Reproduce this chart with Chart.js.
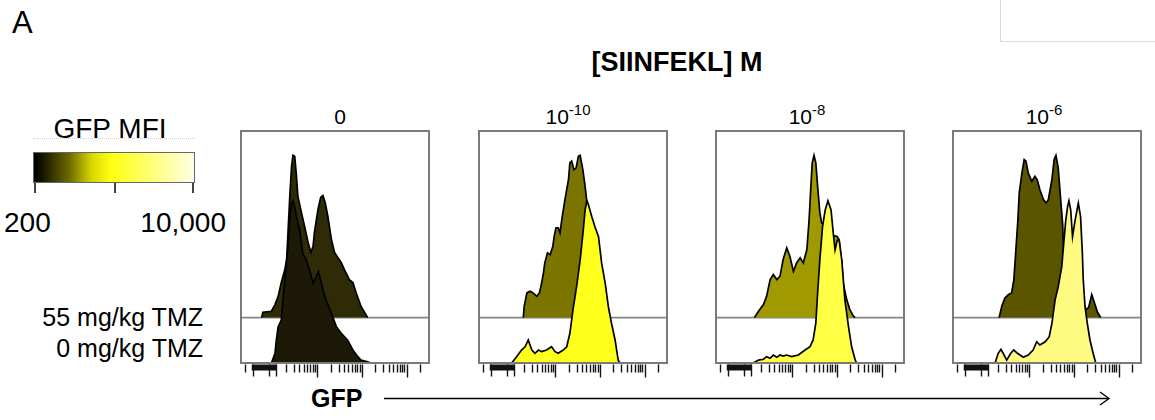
<!DOCTYPE html>
<html><head><meta charset="utf-8">
<script src="https://cdn.jsdelivr.net/npm/chart.js@4.4.1/dist/chart.umd.min.js"></script>
<style>
body{margin:0;background:#fff;width:1155px;height:420px;overflow:hidden;position:relative;font-family:"Liberation Sans",Arial,sans-serif;color:#000}
.t{position:absolute;white-space:nowrap;line-height:1}
.t sup{font-size:15px;vertical-align:0;position:relative;top:-9px}
canvas{position:absolute}
</style></head><body>
<div id="root"></div>
<script>
// ---------- data ----------
const figureLabel = 'A';
const peptideTitle = '[SIINFEKL] M';
const concentrations = ['0', '10<sup>-10</sup>', '10<sup>-8</sup>', '10<sup>-6</sup>'];
const conditions = ['55 mg/kg TMZ', '0 mg/kg TMZ'];
const axisLabel = 'GFP';
const colorbarTitle = 'GFP MFI';
const colorbarLabels = ['200', '10,000'];

// x: log10 GFP (display units), y: % of mode
const tmz55_c0 = [[1.76,0],[1.79,3.3],[1.98,3.9],[2.06,8],[2.13,13.1],[2.20,21.6],[2.28,29.6],[2.32,35.8],[2.35,52.4],[2.39,74.8],[2.43,93.3],[2.46,100],[2.50,99.4],[2.54,87.1],[2.57,74.8],[2.65,64.7],[2.72,56.3],[2.80,46.2],[2.86,40.1],[2.91,44],[2.94,52.4],[3.02,66.6],[3.08,74],[3.13,75.2],[3.18,70.9],[3.24,62.5],[3.32,48.1],[3.39,40.1],[3.54,33.9],[3.61,29.6],[3.72,23.4],[3.80,21.6],[3.87,15.4],[3.98,7],[4.09,1.8],[4.13,0]];
const tmz0_c0 = [[1.98,0],[2.06,6],[2.09,14.2],[2.13,22.4],[2.20,26.5],[2.28,51.2],[2.35,71.7],[2.39,88.2],[2.43,98.5],[2.46,100],[2.50,96.4],[2.54,90.2],[2.61,82],[2.68,67.6],[2.76,63.5],[2.83,57.3],[2.91,49.1],[2.98,53.2],[3.03,56.3],[3.08,51.2],[3.13,45],[3.20,38.8],[3.32,30.6],[3.43,22.4],[3.54,18.3],[3.68,14.2],[3.80,8],[3.91,3.9],[3.98,1.8],[4.13,0.8],[4.20,0]];
const tmz55_c10 = [[2.29,0],[2.31,7],[2.37,15.2],[2.44,16.2],[2.51,15.2],[2.59,13.1],[2.65,15.2],[2.70,21.4],[2.74,27.6],[2.77,33.7],[2.83,39.9],[2.89,38.8],[2.95,44],[2.98,50.1],[3.02,55.3],[3.07,55.3],[3.11,52.2],[3.15,60.4],[3.22,72.7],[3.30,85.1],[3.33,95.4],[3.37,96.4],[3.42,91.2],[3.47,92.3],[3.52,99.4],[3.56,100],[3.62,91.2],[3.67,81],[3.74,63.5],[3.82,48.1],[3.91,29.6],[4.00,11.1],[4.07,0]];
const tmz0_c10 = [[2.03,0],[2.14,3.9],[2.25,8],[2.33,10],[2.40,14.2],[2.48,8],[2.55,6],[2.63,8],[2.70,7],[2.81,8],[2.92,10],[3.00,7],[3.07,6],[3.18,8],[3.26,10],[3.33,18.3],[3.37,26.5],[3.41,34.7],[3.48,47],[3.56,63.5],[3.63,82],[3.67,94.3],[3.71,100],[3.74,98],[3.82,90.2],[3.89,84],[3.97,77.9],[4.04,61.5],[4.12,49.1],[4.19,34.7],[4.26,24.5],[4.34,14.2],[4.41,1.8],[4.45,0]];
const tmz55_c8 = [[2.16,0],[2.25,3.9],[2.36,8],[2.43,13.1],[2.51,23.4],[2.58,26.5],[2.66,23.4],[2.73,25.5],[2.80,35.8],[2.88,43],[2.95,37.8],[3.03,28.5],[3.10,33.7],[3.18,36.8],[3.25,33.7],[3.33,41.9],[3.38,60.4],[3.42,81],[3.45,95.4],[3.49,100],[3.53,95.4],[3.57,81],[3.62,64.5],[3.66,58.4],[3.80,55.5],[3.91,50.6],[4.00,50.1],[4.05,48.1],[4.11,33.7],[4.14,21.4],[4.22,11.1],[4.29,4.9],[4.37,0.8],[4.41,0]];
const tmz0_c8 = [[2.13,0],[2.25,1.8],[2.36,2.3],[2.43,3.9],[2.51,2.9],[2.58,4.9],[2.66,3.5],[2.73,4.9],[2.80,4.3],[2.88,4.9],[2.99,3.9],[3.14,4.9],[3.29,8],[3.40,10],[3.47,14.2],[3.53,24.5],[3.57,43],[3.62,63.5],[3.68,84],[3.74,94.3],[3.80,100],[3.87,94.3],[3.92,80],[3.96,69.7],[4.01,75.8],[4.05,75.8],[4.11,63.5],[4.18,38.8],[4.26,22.4],[4.33,10],[4.41,1.8],[4.44,0]];
const tmz55_c6 = [[2.33,0],[2.39,7],[2.46,12.1],[2.54,14.2],[2.61,15.2],[2.66,23.4],[2.71,44],[2.75,60.4],[2.78,76.9],[2.84,89.2],[2.89,97.4],[2.93,96.4],[2.98,89.2],[3.06,84],[3.13,87.1],[3.18,85.1],[3.24,78.9],[3.32,72.7],[3.38,70.7],[3.43,72.7],[3.51,85.1],[3.56,97.4],[3.60,100],[3.65,92.5],[3.70,74.8],[3.75,57.3],[3.77,41.9],[3.87,29.6],[4.03,20.3],[4.18,11.1],[4.27,4.9],[4.33,6.2],[4.40,14.2],[4.46,9.2],[4.53,3.1],[4.60,0]];
const tmz0_c6 = [[2.24,0],[2.31,6],[2.37,8.4],[2.42,6],[2.50,1.8],[2.59,6],[2.66,8],[2.74,6],[2.87,3.5],[2.98,4.9],[3.09,8],[3.17,13.1],[3.24,11.1],[3.36,13.1],[3.45,16.2],[3.51,24.5],[3.58,38.8],[3.65,47],[3.73,59.4],[3.78,75.8],[3.82,88.2],[3.86,96.4],[3.89,100],[3.93,94.3],[3.97,77.9],[4.03,88.2],[4.10,98.5],[4.15,90.2],[4.19,67.6],[4.21,51.2],[4.25,34.7],[4.30,24.5],[4.36,14.2],[4.43,6],[4.49,0]];

const upperSeries = [tmz55_c0, tmz55_c10, tmz55_c8, tmz55_c6];
const lowerSeries = [tmz0_c0, tmz0_c10, tmz0_c8, tmz0_c6];

// axis ticks (log10 units)
const majorTicks = [3, 4, 5];
const minorTicks = [1.38, 2.30,2.48,2.60,2.70,2.78,2.85,2.90,2.95, 3.30,3.48,3.60,3.70,3.78,3.85,3.90,3.95, 4.30,4.48,4.60,4.70,4.78,4.85,4.90,4.95, 5.30];
const blockRange = [1.54, 2.10];
const blockLegs = [1.57, 1.92, 2.08];

// ---------- styles / layout ----------
const upperColors = ['#2f2b06', '#7b7500', '#a09a00', '#5b5500'];
const lowerColors = ['#1c1a06', '#ffff1c', '#ffff45', '#fffa82'];
const panelLefts = [241, 479, 716, 953];
const panelW = 188, panelTop = 131, panelH = 232;
const X_MIN = 1.3, X_MAX = 5.5, Y_MAX = 143, OFFSET = 28;
const PAD = 3, BOTTOM = 18;

const root = document.getElementById('root');
function text(html, css) {
  const d = document.createElement('div');
  d.className = 't';
  d.innerHTML = html;
  Object.assign(d.style, css);
  root.appendChild(d);
  return d;
}
const baseTop = (baseline, fs) => (baseline - 0.8465 * fs) + 'px';

text(figureLabel, {left:'12px', top: baseTop(33,31), fontSize:'31px'});
text(peptideTitle, {left:'477px', width:'400px', textAlign:'center', top: baseTop(72,27), fontSize:'27px', fontWeight:'bold'});
const titleOffsets = [5, -5, -3, -3];
concentrations.forEach((c, i) => {
  text(c, {left:(panelLefts[i] + titleOffsets[i]) + 'px', width: panelW + 'px', textAlign:'center', top: baseTop(124,21), fontSize:'21px'});
});
text(conditions[0], {right:(1155-203)+'px', top: baseTop(326,25), fontSize:'25px', textAlign:'right'});
text(conditions[1], {right:(1155-203)+'px', top: baseTop(357,25), fontSize:'25px', textAlign:'right'});
text(colorbarTitle, {left:'10px', width:'200px', textAlign:'center', top: baseTop(139,28), fontSize:'28px'});
text(colorbarLabels[0], {left:'4px', top: baseTop(233,28), fontSize:'28px'});
text(colorbarLabels[1], {right:(1155-226)+'px', top: baseTop(233,28), fontSize:'28px', textAlign:'right'});
text(axisLabel, {left:'311px', top: baseTop(407,25), fontSize:'25px', fontWeight:'bold', fontFamily:'"Liberation Sans Narrow","Liberation Sans",Arial,sans-serif'});

// colour bar
const cb = document.createElement('div');
Object.assign(cb.style, {position:'absolute', left:'33px', top:'152px', width:'162px', height:'31px', boxSizing:'border-box', border:'1.5px solid #666',
  background:'linear-gradient(to right,#000000 0%,#1a1800 6%,#6d6900 22%,#d8d600 36%,#ffff10 48%,#ffff40 60%,#ffff9a 82%,#ffffe8 100%)'});
root.appendChild(cb);
const dotted = document.createElement('div');
Object.assign(dotted.style, {position:'absolute', left:'33px', top:'138px', width:'162px', height:'0', borderTop:'1px dotted #d0d0d0'});
root.appendChild(dotted);
[35, 115, 193].forEach(x => {
  const tk = document.createElement('div');
  Object.assign(tk.style, {position:'absolute', left:(x-1)+'px', top:'183px', width:'2px', height:'10px', background:'#444'});
  root.appendChild(tk);
});
// top-right box
const box = document.createElement('div');
Object.assign(box.style, {position:'absolute', left:'1000px', top:'-1px', width:'170px', height:'42px', borderLeft:'1px solid #d8d8d8', borderBottom:'1px solid #d8d8d8'});
root.appendChild(box);

// arrow
root.insertAdjacentHTML('beforeend',
  '<svg style="position:absolute;left:0;top:0" width="1155" height="420"><g stroke="#000" stroke-width="1.4" fill="none">' +
  '<line x1="384" y1="398.5" x2="1109" y2="398.5"/><polyline points="1100,392 1109,398.5 1100,405"/></g></svg>');

// ---------- charts ----------
const framePlugin = {
  id: 'panelFrame',
  afterDatasetsDraw(chart) {
    const {ctx, chartArea: a, scales: {x}} = chart;
    ctx.save();
    ctx.strokeStyle = '#7a7a7a';
    ctx.lineWidth = 2;
    ctx.strokeRect(a.left, a.top, a.right - a.left, a.bottom - a.top);
    const y0 = a.bottom + 1.5;
    ctx.strokeStyle = '#151515';
    ctx.lineWidth = 1.4;
    ctx.beginPath();
    minorTicks.forEach(v => { const p = Math.round(x.getPixelForValue(v)) + 0.5; ctx.moveTo(p, y0); ctx.lineTo(p, y0 + 8); });
    majorTicks.forEach(v => { const p = Math.round(x.getPixelForValue(v)) + 0.5; ctx.moveTo(p, y0); ctx.lineTo(p, y0 + 13); });
    blockLegs.forEach(v => { const p = Math.round(x.getPixelForValue(v)) + 0.5; ctx.moveTo(p, y0); ctx.lineTo(p, y0 + 12); });
    ctx.stroke();
    const b0 = x.getPixelForValue(blockRange[0]), b1 = x.getPixelForValue(blockRange[1]);
    ctx.fillStyle = '#111';
    ctx.fillRect(b0, y0, b1 - b0, 6);
    ctx.restore();
  }
};

panelLefts.forEach((L, i) => {
  const c = document.createElement('canvas');
  const w = panelW + 2 * PAD, h = panelH + PAD + BOTTOM;
  c.width = w; c.height = h;
  Object.assign(c.style, {left:(L - PAD)+'px', top:(panelTop - PAD)+'px', width:w+'px', height:h+'px'});
  root.appendChild(c);
  new Chart(c, {
    type: 'line',
    data: {
      datasets: [
        { label: conditions[1], data: lowerSeries[i].map(p => ({x:p[0], y:p[1]})),
          borderColor:'#000', borderWidth:1.7, backgroundColor: lowerColors[i], fill:'origin', order:0 },
        { label: conditions[0], data: upperSeries[i].map(p => ({x:p[0], y:OFFSET + p[1]})),
          borderColor:'#000', borderWidth:1.7, backgroundColor: upperColors[i], fill:{value:OFFSET}, order:1 },
        { label: 'baseline', data: [{x:X_MIN, y:OFFSET}, {x:X_MAX, y:OFFSET}],
          borderColor:'#858585', borderWidth:1.8, fill:false, order:2 }
      ]
    },
    options: {
      responsive:false, animation:false, events:[],
      layout:{padding:{left:PAD, right:PAD, top:PAD, bottom:BOTTOM}},
      elements:{point:{radius:0}, line:{tension:0}},
      plugins:{legend:{display:false}, tooltip:{enabled:false}, title:{display:false}},
      scales:{
        x:{type:'linear', min:X_MIN, max:X_MAX, display:false},
        y:{min:0, max:Y_MAX, display:false}
      }
    },
    plugins:[framePlugin]
  });
});
</script>
</body></html>
